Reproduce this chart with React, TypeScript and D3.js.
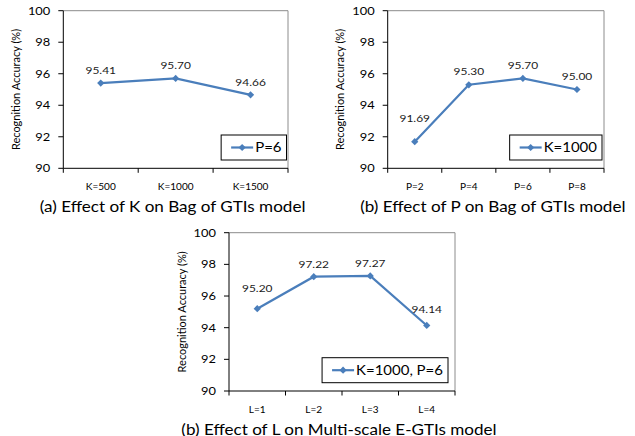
import React from 'react';
import * as d3 from 'd3';

// Recognition accuracy (%) for each parameter setting
const kLabels = ['K=500', 'K=1000', 'K=1500'];
const kAccuracy = [95.41, 95.7, 94.66];

const pLabels = ['P=2', 'P=4', 'P=6', 'P=8'];
const pAccuracy = [91.69, 95.3, 95.7, 95.0];

const lLabels = ['L=1', 'L=2', 'L=3', 'L=4'];
const lAccuracy = [95.2, 97.22, 97.27, 94.14];

const yTicks = [90, 92, 94, 96, 98, 100];

const FONT = "Lato, 'Open Sans', 'Liberation Sans', sans-serif";
const SX = 1.17; // slight horizontal widening of the lettering
const LINE = '#4A7EBB';

type Panel = {
  left: number;
  right: number;
  top: number;
  bottom: number;
  cats: string[];
  vals: number[];
  series: string;
  title: string;
  legendGap: number;
  legendTop: number;
  lift: number[];
};

const panels: Panel[] = [
  {
    left: 63.3, right: 288, top: 10.7, bottom: 168.3,
    cats: kLabels, vals: kAccuracy, series: 'P=6',
    title: '(a) Effect of K on Bag of GTIs model',
    legendGap: 1.5, legendTop: 135, lift: [9, 9, 9],
  },
  {
    left: 387.7, right: 604, top: 10.7, bottom: 168.3,
    cats: pLabels, vals: pAccuracy, series: 'K=1000',
    title: '(b) Effect of P on Bag of GTIs model',
    legendGap: 2, legendTop: 135, lift: [20, 10, 9, 9.5],
  },
  {
    left: 229, right: 455, top: 232.7, bottom: 391,
    cats: lLabels, vals: lAccuracy, series: 'K=1000, P=6',
    title: '(b) Effect of L on Multi-scale E-GTIs model',
    legendGap: 7, legendTop: 357.7, lift: [16.5, 9, 9, 12.5],
  },
];

let ctx: CanvasRenderingContext2D | null = null;
function measure(text: string, size: number) {
  if (!ctx) ctx = document.createElement('canvas').getContext('2d');
  if (!ctx) return text.length * size * 0.55;
  ctx.font = `${size}px ${FONT}`;
  return ctx.measureText(text).width * SX;
}

function T({ x, y, size, anchor = 'middle', fill = '#000', children }: any) {
  return (
    <text
      transform={`translate(${x},${y}) scale(${SX},1)`}
      textAnchor={anchor}
      fontSize={size}
      fontFamily={FONT}
      fill={fill}
    >
      {children}
    </text>
  );
}

const diamond = d3.symbol(d3.symbolSquare, 26)();

function Chart({ p }: { p: Panel }) {
  const x = d3.scaleBand<string>().domain(p.cats).range([p.left, p.right]).padding(0);
  const y = d3.scaleLinear().domain([90, 100]).range([p.bottom, p.top]);
  const cx = (c: string) => (x(c) as number) + x.bandwidth() / 2;
  const line = d3
    .line<number>()
    .x((_, i) => cx(p.cats[i]))
    .y((v) => y(v));

  const boundaries = [...p.cats.map((c) => x(c) as number), p.right];

  const legendSize = 12.8;
  const legendTextW = measure(p.series, legendSize);
  const lw = 34 + legendTextW + 5;
  const lx = p.right - p.legendGap - lw;
  const ly = p.legendTop;
  const lh = 25;

  return (
    <g>
      {/* plot frame: grey top and right, black axes */}
      <line x1={p.left} x2={p.right} y1={p.top} y2={p.top} stroke="#8c8c8c" strokeWidth={1} />
      <line x1={p.right} x2={p.right} y1={p.top} y2={p.bottom} stroke="#8c8c8c" strokeWidth={1} />
      <line x1={p.left} x2={p.left} y1={p.top} y2={p.bottom} stroke="#000" strokeWidth={1} />
      <line x1={p.left} x2={p.right} y1={p.bottom} y2={p.bottom} stroke="#000" strokeWidth={1} />

      {yTicks.map((t) => (
        <g key={t}>
          <line x1={p.left - 5} x2={p.left} y1={y(t)} y2={y(t)} stroke="#000" />
          <T x={p.left - 13} y={y(t) + 4} size={11} anchor="end">
            {t}
          </T>
        </g>
      ))}

      {boundaries.map((b, i) => (
        <line key={i} x1={b} x2={b} y1={p.bottom} y2={p.bottom + 4.5} stroke="#000" />
      ))}

      {p.cats.map((c) => (
        <T key={c} x={cx(c)} y={p.bottom + 21.5} size={8.6}>
          {c}
        </T>
      ))}

      <text
        transform={`translate(${p.left - 48},${(p.top + p.bottom) / 2}) rotate(-90)`}
        textAnchor="middle"
        dominantBaseline="central"
        fontSize={11}
        fontFamily={FONT}
        fill="#000"
      >
        Recognition Accuracy (%)
      </text>

      <path d={line(p.vals) || ''} fill="none" stroke={LINE} strokeWidth={2.2} />
      {p.vals.map((v, i) => (
        <path
          key={i}
          d={diamond || ''}
          transform={`translate(${cx(p.cats[i])},${y(v)}) rotate(45)`}
          fill={LINE}
        />
      ))}
      {p.vals.map((v, i) => (
        <T key={'l' + i} x={cx(p.cats[i])} y={y(v) - p.lift[i]} size={10.2} fill="#1a1a1a">
          {v.toFixed(2)}
        </T>
      ))}

      {/* legend */}
      <rect x={lx} y={ly} width={lw} height={lh} fill="#fff" stroke="#000" strokeWidth={1} />
      <line x1={lx + 10} x2={lx + 32} y1={ly + lh / 2} y2={ly + lh / 2} stroke={LINE} strokeWidth={2.2} />
      <path d={diamond || ''} transform={`translate(${lx + 21},${ly + lh / 2}) rotate(45)`} fill={LINE} />
      <T x={lx + 34} y={ly + lh / 2 + 4.6} size={legendSize} anchor="start">
        {p.series}
      </T>

      <T x={(p.left + p.right) / 2 - 3} y={p.bottom + 43.5} size={14.6}>
        {p.title}
      </T>
    </g>
  );
}

export default function App() {
  return (
    <svg
      width={635}
      height={436}
      style={{ position: 'absolute', left: 0, top: 0, background: '#fff' }}
    >
      <rect width={635} height={436} fill="#fff" />
      {panels.map((p, i) => (
        <Chart key={i} p={p} />
      ))}
    </svg>
  );
}
